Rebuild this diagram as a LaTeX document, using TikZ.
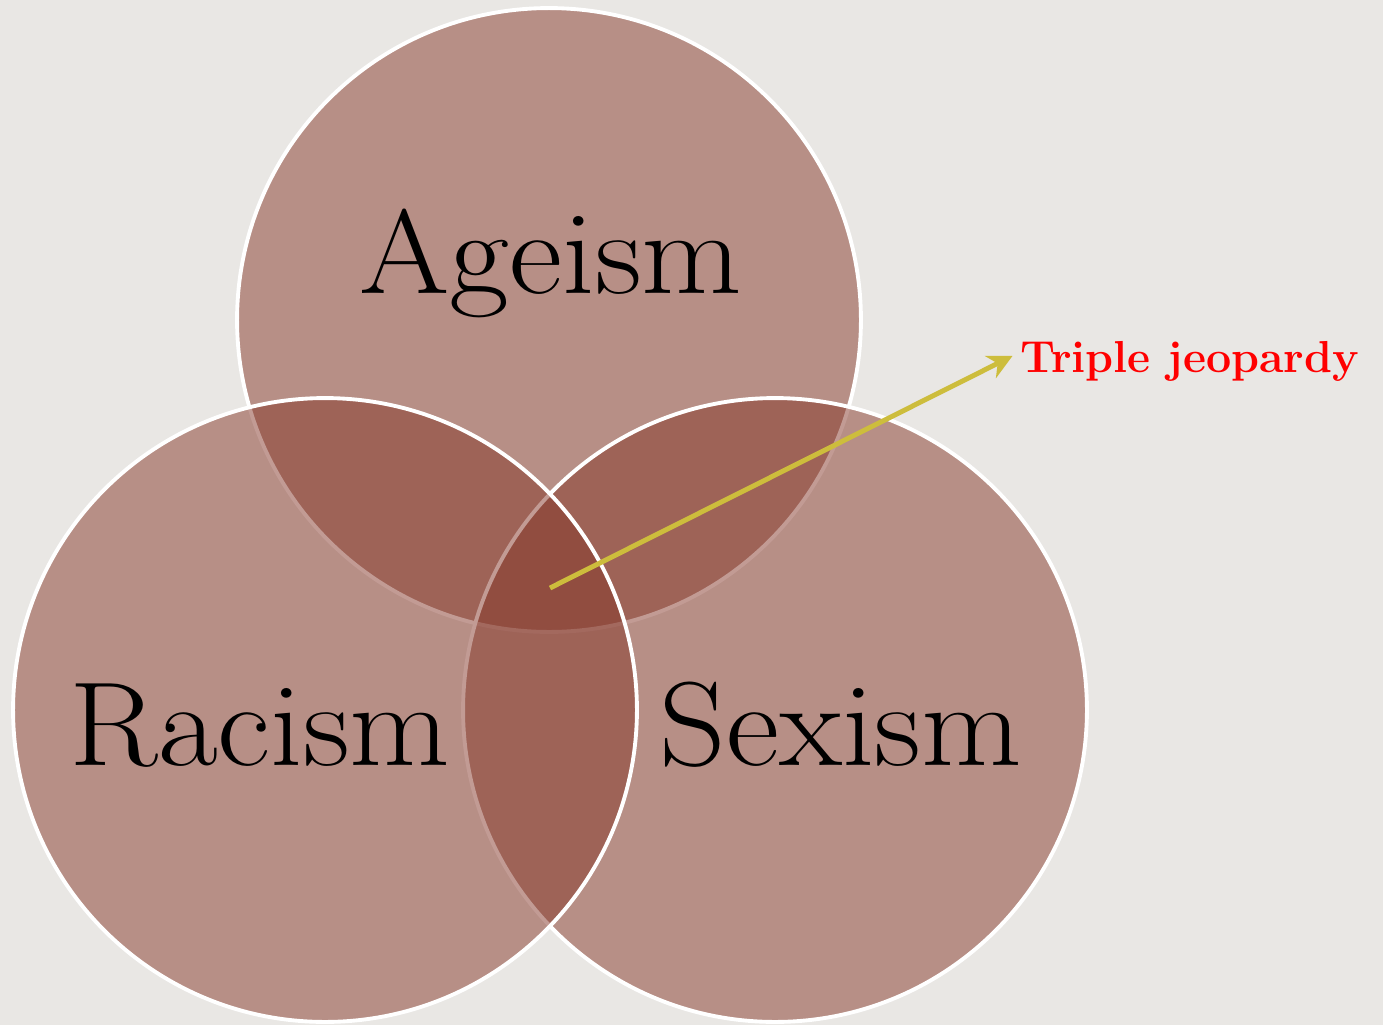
\documentclass[tikz,border=0pt]{standalone}
\usepackage{tikz}
\usetikzlibrary{arrows.meta, positioning, backgrounds}
\definecolor{vennBase}{HTML}{86382A}
\definecolor{vennBack}{HTML}{E9E7E4}
\definecolor{arrowGold}{HTML}{CDBD3C}
\newcommand{\wide}[1]{\scalebox{1.09}[1]{#1}}

\begin{document}
\begin{tikzpicture}[
    x=0.02cm, y=-0.02cm,
    ring/.style={circle, draw=white, line width=2.2pt, fill=vennBase,
                 fill opacity=0.5, draw opacity=1, minimum size=12.48cm,
                 inner sep=0pt},
    bigword/.style={font=\fontsize{68}{72}\selectfont, text=black,
                 inner sep=0pt, anchor=base},
    tag/.style={font=\fontsize{25.5}{28}\selectfont\bfseries, text=red,
                inner sep=0pt, anchor=base west},
  ]
    \useasboundingbox[fill=vennBack] (0,0) rectangle (1383,1025);

    \node[ring] (age) at (549,320) {};
    \node[ring] (sex) at (775,710) {};
    \node[ring] (race) at (325,710) {};

    \node[bigword] (ageism) at (551,293) {\wide{Ageism}};
    \node[bigword] (racism) at (260,765) {\wide{Racism}};
    \node[bigword] (sexism) at (841,765) {\wide{Sexism}};

    \coordinate (core) at (550,588);
    \node[tag] (triple) at (1020,372) {Triple jeopardy};

    \draw[arrowGold, line width=2.8pt, -{Stealth[length=14pt, width=14pt]}]
      (core) -- ([xshift=-0.15cm, yshift=0.1cm]triple.west);
  \end{tikzpicture}
\end{document}
